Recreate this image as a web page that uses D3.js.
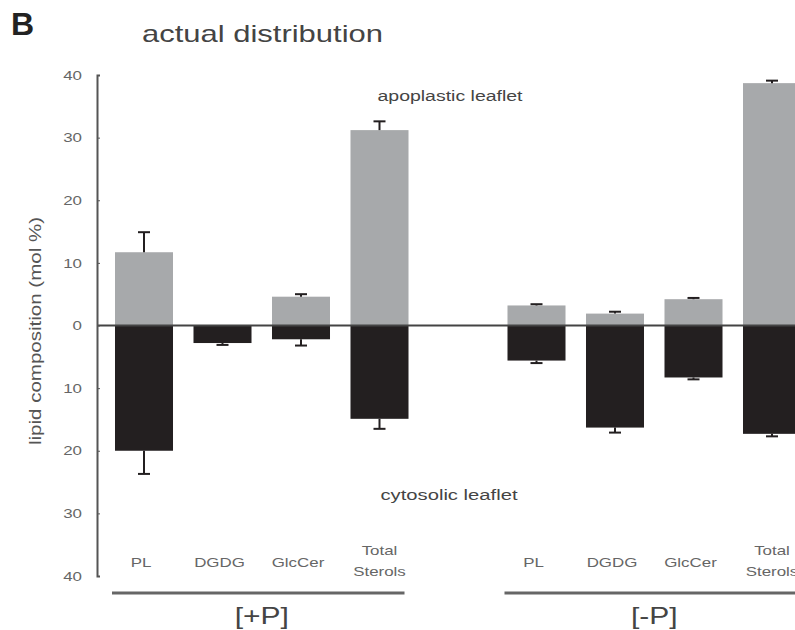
<!DOCTYPE html>
<html>
<head>
<meta charset="utf-8">
<script src="https://cdn.jsdelivr.net/npm/d3@7"></script>
<style>
  body { margin: 0; background: #fff; }
  svg { display: block; font-family: "Liberation Sans", Arial, Helvetica, sans-serif; }
  .axis path, .axis line { stroke: #555; }
  .axis text { fill: #666; font-size: 13px; }
</style>
</head>
<body>
<svg id="chart" width="795" height="630"></svg>
<script>
// lipid distribution between the two leaflets
var groups = ["[+P]", "[-P]"];
var categories = ["PL", "DGDG", "GlcCer", "Total Sterols"];
var yTicks = [-40, -30, -20, -10, 0, 10, 20, 30, 40];

var apoplasticPlus = [11.7, 0, 4.6, 31.2];
var apoplasticPlusErr = [3.2, 0, 0.4, 1.4];
var cytosolicPlus = [20.0, 2.8, 2.2, 14.9];
var cytosolicPlusErr = [3.7, 0.3, 1.0, 1.6];

var apoplasticMinus = [3.2, 1.9, 4.2, 38.7];
var apoplasticMinusErr = [0.2, 0.3, 0.2, 0.4];
var cytosolicMinus = [5.6, 16.3, 8.3, 17.3];
var cytosolicMinusErr = [0.4, 0.8, 0.3, 0.4];

var svg = d3.select("#chart");

// the figure's text is drawn wider than the font, so stretch it a bit
function stretch(sel, k) {
  sel.each(function () {
    var w = this.getComputedTextLength();
    d3.select(this).attr("textLength", w * k).attr("lengthAdjust", "spacingAndGlyphs");
  });
}

var y = d3.scaleLinear().domain([-40, 40]).range([576, 75]);

var x0 = d3.scaleBand()
  .domain(groups)
  .range([104.75, 811.25])
  .paddingInner(0.2);

var x1 = d3.scaleBand()
  .domain(categories)
  .range([0, x0.bandwidth()])
  .paddingInner(0.261)
  .paddingOuter(0.1305);

var rows = [];
groups.forEach(function (g, gi) {
  var up = gi === 0 ? apoplasticPlus : apoplasticMinus;
  var upErr = gi === 0 ? apoplasticPlusErr : apoplasticMinusErr;
  var down = gi === 0 ? cytosolicPlus : cytosolicMinus;
  var downErr = gi === 0 ? cytosolicPlusErr : cytosolicMinusErr;
  categories.forEach(function (c, ci) {
    rows.push({ group: g, cat: c, value: up[ci], err: upErr[ci], side: 1 });
    rows.push({ group: g, cat: c, value: down[ci], err: downErr[ci], side: -1 });
  });
});

function cx(d) { return x0(d.group) + x1(d.cat) + x1.bandwidth() / 2; }

// bars
svg.append("g").selectAll("rect")
  .data(rows.filter(function (d) { return d.value > 0; }))
  .enter().append("rect")
    .attr("x", function (d) { return x0(d.group) + x1(d.cat); })
    .attr("width", x1.bandwidth())
    .attr("y", function (d) { return d.side > 0 ? y(d.value) : y(0); })
    .attr("height", function (d) { return Math.abs(y(d.value) - y(0)); })
    .attr("fill", function (d) { return d.side > 0 ? "#a7a9ab" : "#231f20"; });

// error bars, one-sided, pointing away from zero
var eb = svg.append("g").attr("stroke", "#231f20").attr("stroke-width", 2)
  .selectAll("g")
  .data(rows.filter(function (d) { return d.value > 0 && d.err > 0; }))
  .enter().append("g");

eb.append("line")
  .attr("x1", cx).attr("x2", cx)
  .attr("y1", function (d) { return y(d.side * d.value); })
  .attr("y2", function (d) { return y(d.side * (d.value + d.err)); });

eb.append("line")
  .attr("x1", function (d) { return cx(d) - 6; })
  .attr("x2", function (d) { return cx(d) + 6; })
  .attr("y1", function (d) { return y(d.side * (d.value + d.err)); })
  .attr("y2", function (d) { return y(d.side * (d.value + d.err)); });

// zero line
svg.append("line")
  .attr("x1", 97).attr("x2", 795)
  .attr("y1", y(0)).attr("y2", y(0))
  .attr("stroke", "#444").attr("stroke-width", 2);

// y axis
var yAxis = svg.append("g")
  .attr("class", "axis")
  .attr("transform", "translate(97,0)")
  .call(d3.axisLeft(y).tickValues(yTicks).tickSizeInner(-3).tickSizeOuter(-3).tickPadding(15)
    .tickFormat(function (d) { return Math.abs(d); }));
yAxis.select(".domain").attr("stroke-width", 2);
stretch(yAxis.selectAll("text"), 1.3);

svg.append("text")
  .attr("transform", "translate(41,331) rotate(-90)")
  .attr("text-anchor", "middle")
  .attr("fill", "#555")
  .style("font-size", "17px")
  .attr("textLength", 228)
  .attr("lengthAdjust", "spacingAndGlyphs")
  .text("lipid composition (mol %)");

// category labels
var catLabels = svg.append("g").selectAll("text")
  .data(rows.filter(function (d) { return d.side > 0; }))
  .enter().append("text")
    .attr("x", function (d) { return cx(d) - 3; })
    .attr("y", 567)
    .attr("text-anchor", "middle")
    .attr("fill", "#666")
    .style("font-size", "13px");
catLabels.each(function (d) {
  var t = d3.select(this);
  var parts = d.cat.split(" ");
  if (parts.length === 1) {
    t.text(d.cat);
  } else {
    t.attr("y", 555);
    t.append("tspan").attr("x", cx(d)).text(parts[0]);
    t.append("tspan").attr("x", cx(d)).attr("dy", 21).text(parts[1]);
  }
});
catLabels.filter(function (d) { return d.cat.indexOf(" ") < 0; }).call(stretch, 1.3);
catLabels.selectAll("tspan").call(stretch, 1.3);

// group brackets
var gl = svg.append("g").selectAll("g")
  .data(groups)
  .enter().append("g");

gl.append("line")
  .attr("x1", function (g) { return x0(g) + x1(categories[0]) - 3; })
  .attr("x2", function (g) { return x0(g) + x1(categories[categories.length - 1]) + x1.bandwidth() - 4; })
  .attr("y1", 593).attr("y2", 593)
  .attr("stroke", "#666").attr("stroke-width", 3);

gl.append("text")
  .attr("x", function (g) { return x0(g) + x0.bandwidth() / 2; })
  .attr("y", 624)
  .attr("text-anchor", "middle")
  .attr("fill", "#444")
  .style("font-size", "24px")
  .text(function (g) { return g; })
  .call(stretch, 1.25);

// leaflet labels
svg.append("text")
  .attr("x", 450).attr("y", 101)
  .attr("text-anchor", "middle")
  .attr("fill", "#444")
  .style("font-size", "14px")
  .attr("textLength", 145)
  .attr("lengthAdjust", "spacingAndGlyphs")
  .text("apoplastic leaflet");

svg.append("text")
  .attr("x", 449).attr("y", 500)
  .attr("text-anchor", "middle")
  .attr("fill", "#444")
  .style("font-size", "14px")
  .attr("textLength", 137)
  .attr("lengthAdjust", "spacingAndGlyphs")
  .text("cytosolic leaflet");

// panel letter and title
svg.append("text")
  .attr("x", 11).attr("y", 35)
  .attr("fill", "#222")
  .style("font-size", "32px")
  .style("font-weight", "bold")
  .text("B");

svg.append("text")
  .attr("x", 142).attr("y", 42)
  .attr("fill", "#444")
  .style("font-size", "24px")
  .attr("textLength", 241)
  .attr("lengthAdjust", "spacingAndGlyphs")
  .text("actual distribution");
</script>
</body>
</html>
